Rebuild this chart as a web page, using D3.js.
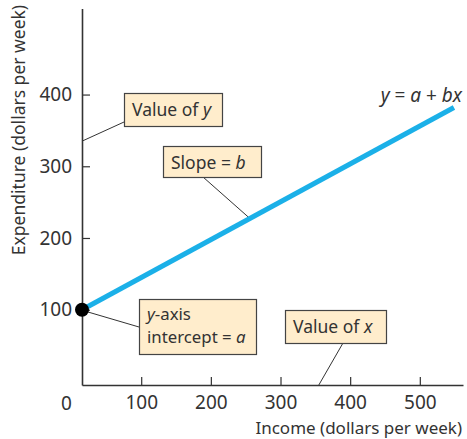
<!DOCTYPE html>
<html>
<head>
<meta charset="utf-8">
<script src="https://cdn.jsdelivr.net/npm/d3@7"></script>
<style>
  body { margin: 0; background: #fff; }
  text { font-family: "Noto Sans", sans-serif; fill: #333; }
</style>
</head>
<body>
<div id="chart"></div>
<script>
// data
const xTicks = [100, 200, 300, 400, 500]
const yTicks = [100, 200, 300, 400]
const lineIncome = [15, 549]
const lineSpend = [100, 382]
const interceptPoint = [15, 100]
const xDomain = [15, 562]
const yDomain = [-5, 520]

function drawChart() {
    const width = 467
    const height = 439
    const ink = "#333"
    const font = "'Noto Sans', sans-serif"

    let svg = d3.select("#chart")
        .append("svg")
        .attr("width", width)
        .attr("height", height);

    let x = d3.scaleLinear().domain(xDomain).range([82, 463]);
    let y = d3.scaleLinear().domain(yDomain).range([385, 8.5]);

    //axes
    let axisX = d3.axisBottom(x).tickValues(xTicks).tickSizeInner(-8).tickSizeOuter(0).tickPadding(10);
    let axisY = d3.axisLeft(y).tickValues(yTicks).tickSizeInner(-8).tickSizeOuter(0).tickPadding(10);

    let gx = svg.append("g")
        .attr("transform", `translate(0,${y(yDomain[0])})`)
        .call(axisX);
    let gy = svg.append("g")
        .attr("transform", `translate(${x(xDomain[0])},0)`)
        .call(axisY);

    [gx, gy].forEach(function(g) {
        g.select(".domain").attr("stroke", ink).attr("stroke-width", 1.6);
        g.selectAll(".tick line").attr("stroke", ink).attr("stroke-width", 1.2);
        g.selectAll(".tick text")
            .attr("font-family", font)
            .attr("font-size", 19)
            .attr("fill", ink);
    });
    gx.selectAll(".tick text").attr("dy", "0.75em");
    gy.selectAll(".tick text").attr("dx", "0");

    //origin label
    svg.append("text")
        .attr("x", x(0) - 5)
        .attr("y", y(yDomain[0]) + 18)
        .attr("dy", "0.35em")
        .attr("text-anchor", "middle")
        .attr("font-size", 19)
        .text("0");

    //axis titles
    svg.append("text")
        .attr("transform", `translate(19,${130}) rotate(-90)`)
        .attr("text-anchor", "middle")
        .attr("dy", "0.35em")
        .attr("font-size", 17.5)
        .text("Expenditure (dollars per week)");

    svg.append("text")
        .attr("x", 462)
        .attr("y", 434)
        .attr("text-anchor", "end")
        .attr("font-size", 17)
        .text("Income (dollars per week)");

    //leader lines (drawn before the boxes)
    const leaders = [
        [[124, 122], [x(xDomain[0]), y(335)]],
        [[203, 177], [x(256), y(100 + (256 - 15) * (382 - 100) / (549 - 15))]],
        [[88, 312], [139, 327]],
        [[343, 343], [x(355), y(yDomain[0])]]
    ];
    svg.selectAll(".leader")
        .data(leaders)
        .enter()
        .append("line")
        .attr("class", "leader")
        .attr("x1", d => d[0][0])
        .attr("y1", d => d[0][1])
        .attr("x2", d => d[1][0])
        .attr("y2", d => d[1][1])
        .attr("stroke", ink)
        .attr("stroke-width", 1);

    //the line y = a + bx
    let pts = lineIncome.map((v, i) => [v, lineSpend[i]]);
    svg.append("path")
        .datum(pts)
        .attr("d", d3.line().x(d => x(d[0])).y(d => y(d[1])))
        .attr("fill", "none")
        .attr("stroke", "#1bb0e8")
        .attr("stroke-width", 5);

    svg.append("circle")
        .attr("cx", x(interceptPoint[0]))
        .attr("cy", y(interceptPoint[1]))
        .attr("r", 7)
        .attr("fill", "#000");

    //equation label
    let eq = svg.append("text")
        .attr("x", 462)
        .attr("y", 102)
        .attr("text-anchor", "end")
        .attr("font-size", 19);
    eq.append("tspan").attr("font-style", "italic").text("y");
    eq.append("tspan").text(" = ");
    eq.append("tspan").attr("font-style", "italic").text("a");
    eq.append("tspan").text(" + ");
    eq.append("tspan").attr("font-style", "italic").text("bx");

    //annotation boxes
    function box(bx, by, bw, bh, lines, fs) {
        let g = svg.append("g");
        g.append("rect")
            .attr("x", bx + 0.5)
            .attr("y", by + 0.5)
            .attr("width", bw)
            .attr("height", bh)
            .attr("fill", "#ffedcc")
            .attr("stroke", "#444")
            .attr("stroke-width", 1.2);
        lines.forEach(function(parts, i) {
            let t = g.append("text")
                .attr("x", bx + 8)
                .attr("y", by + (lines.length > 1 ? 21 : 22.5) + i * 23)
                .attr("font-size", fs || 17.5);
            parts.forEach(function(p) {
                t.append("tspan")
                    .attr("font-style", p[1] ? "italic" : "normal")
                    .text(p[0]);
            });
        });
    }

    box(124, 93, 98, 33, [[["Value of ", 0], ["y", 1]]]);
    box(163, 146, 98, 31, [[["Slope = ", 0], ["b", 1]]]);
    box(139, 299, 117, 55, [[["y", 1], ["-axis", 0]], [["intercept = ", 0], ["a", 1]]], 16.8);
    box(285, 310, 101, 33, [[["Value of ", 0], ["x", 1]]]);
}

drawChart();
</script>
</body>
</html>
